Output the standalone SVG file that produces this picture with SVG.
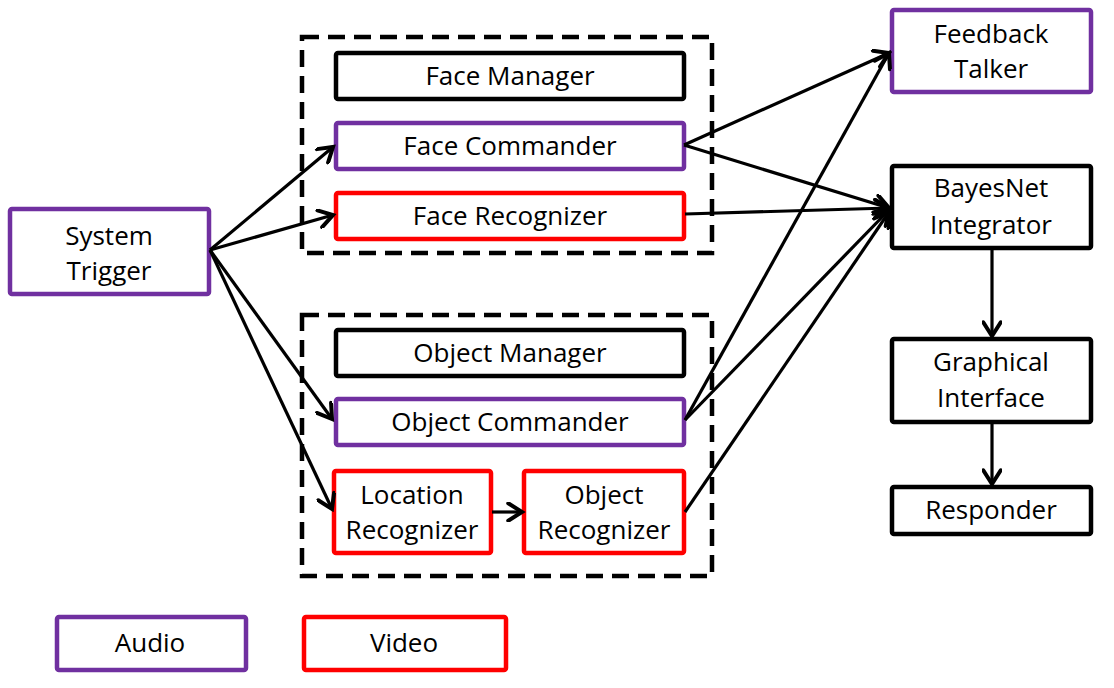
<svg xmlns="http://www.w3.org/2000/svg" width="1114" height="688" viewBox="0 0 1114 688">
<defs>
<marker id="ah" markerUnits="userSpaceOnUse" markerWidth="20" markerHeight="20" viewBox="-12 -8 14 16" refX="0" refY="0" orient="auto">
<path d="M-11,-7 L0,0 L-11,7" fill="none" stroke="#000" stroke-width="3.2" stroke-linecap="round" stroke-linejoin="miter"/>
</marker>
</defs>
<style>
.box{fill:#fff;stroke-width:4.5;rx:2}
.a{stroke:#7030A0}
.v{stroke:#FF0000}
.k{stroke:#000}
.grp{fill:none;stroke:#000;stroke-width:4.5;stroke-dasharray:17 9}
text{font-family:"Open Sans","Noto Sans",sans-serif;font-size:26px;fill:#000;text-anchor:middle}
.c line{stroke:#000;stroke-width:3.2;marker-end:url(#ah)}
</style>
<rect width="1114" height="688" fill="#fff"/>
<g id="face-group"><rect class="grp" x="302" y="37" width="410" height="216"/></g>
<g id="object-group"><rect class="grp" x="302" y="315" width="410" height="261"/></g>
<g id="system-trigger"><rect class="box a" x="10" y="209" width="199" height="85"/><text x="109" y="245">System</text><text x="109" y="280">Trigger</text></g>
<g id="face-manager"><rect class="box k" x="336" y="53" width="348" height="46"/><text x="510" y="85">Face Manager</text></g>
<g id="face-commander"><rect class="box a" x="336" y="123" width="348" height="46"/><text x="510" y="155">Face Commander</text></g>
<g id="face-recognizer"><rect class="box v" x="336" y="193" width="348" height="46"/><text x="510" y="225">Face Recognizer</text></g>
<g id="object-manager"><rect class="box k" x="336" y="330" width="348" height="46"/><text x="510" y="362">Object Manager</text></g>
<g id="object-commander"><rect class="box a" x="336" y="399" width="348" height="46"/><text x="510" y="431">Object Commander</text></g>
<g id="location-recognizer"><rect class="box v" x="334" y="471" width="157" height="82"/><text x="412" y="504">Location</text><text x="412" y="539">Recognizer</text></g>
<g id="object-recognizer"><rect class="box v" x="524" y="471" width="160" height="82"/><text x="604" y="504">Object</text><text x="604" y="539">Recognizer</text></g>
<g id="feedback-talker"><rect class="box a" x="892" y="10" width="199" height="82"/><text x="991" y="43">Feedback</text><text x="991" y="78">Talker</text></g>
<g id="bayesnet-integrator"><rect class="box k" x="892" y="166" width="199" height="82"/><text x="991" y="197">BayesNet</text><text x="991" y="234">Integrator</text></g>
<g id="graphical-interface"><rect class="box k" x="892" y="339" width="199" height="83"/><text x="991" y="371">Graphical</text><text x="991" y="407">Interface</text></g>
<g id="responder"><rect class="box k" x="892" y="487" width="199" height="47"/><text x="991" y="519">Responder</text></g>
<g id="legend-audio"><rect class="box a" x="57" y="617" width="189" height="53"/><text x="150" y="652">Audio</text></g>
<g id="legend-video"><rect class="box v" x="304" y="617" width="202" height="53"/><text x="404" y="652">Video</text></g>
<g class="c" id="connectors">
<line x1="210" y1="250" x2="333" y2="147"/>
<line x1="210" y1="250" x2="333" y2="215"/>
<line x1="210" y1="250" x2="332" y2="419"/>
<line x1="210" y1="250" x2="332" y2="509"/>
<line x1="684" y1="145" x2="889" y2="53"/>
<line x1="684" y1="145" x2="889" y2="208"/>
<line x1="685" y1="214" x2="889" y2="208"/>
<line x1="685" y1="420" x2="889" y2="53"/>
<line x1="685" y1="420" x2="889" y2="210"/>
<line x1="685" y1="512" x2="889" y2="212"/>
<line x1="492" y1="512" x2="522" y2="512"/>
<line x1="992" y1="250" x2="992" y2="336"/>
<line x1="992" y1="424" x2="992" y2="484"/>
</g>
</svg>
